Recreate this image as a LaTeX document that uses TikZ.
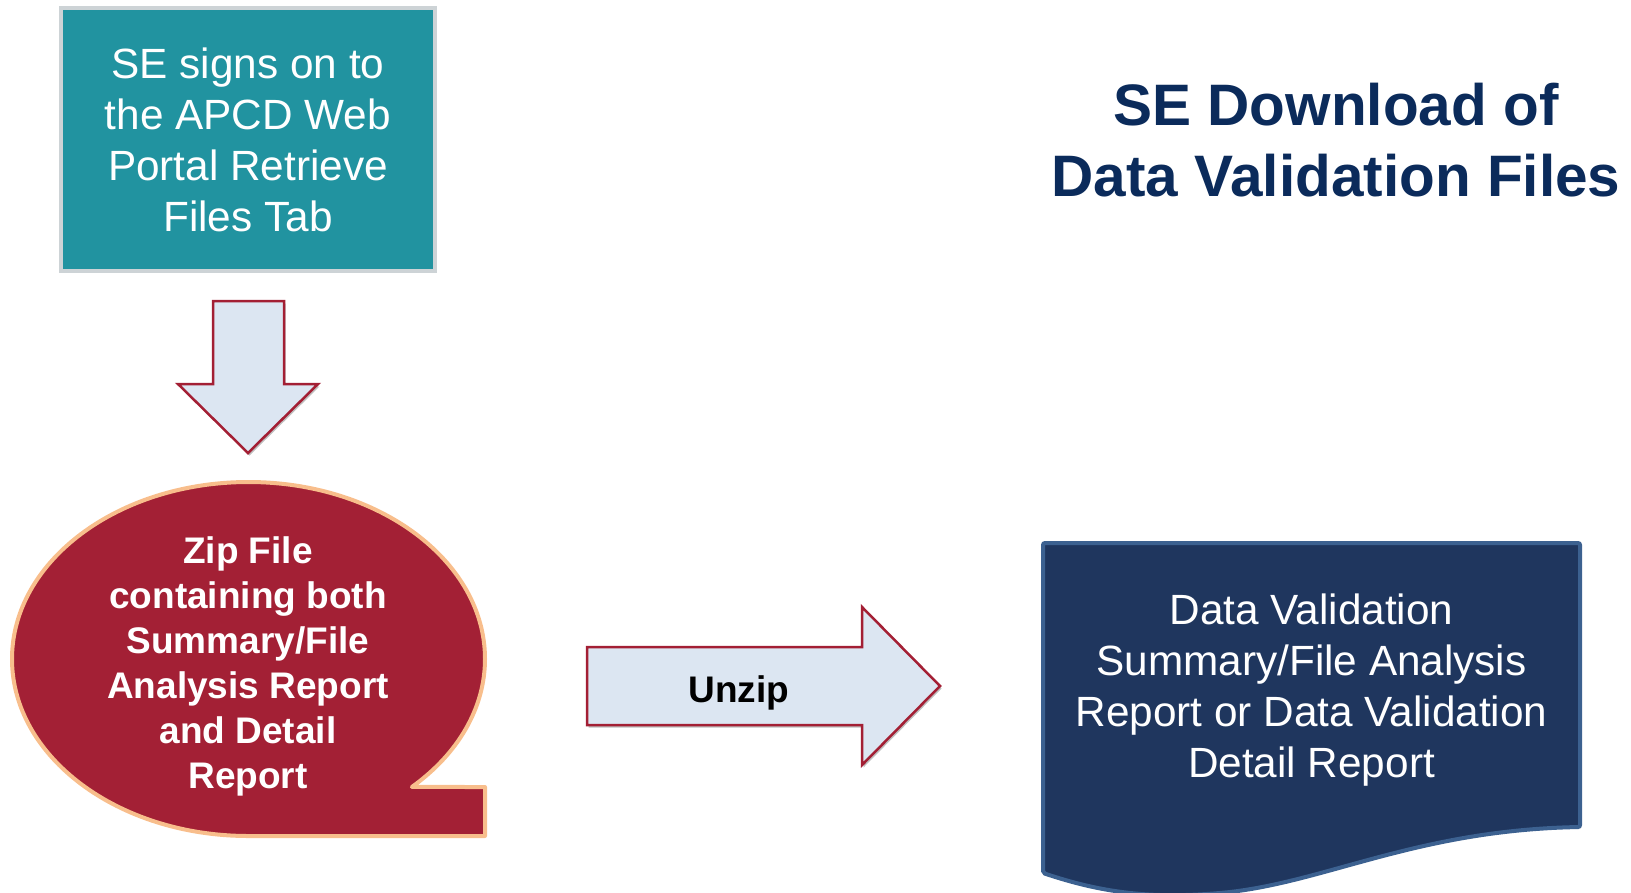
\documentclass[tikz,border=0pt]{standalone}
\usepackage{fontspec}
\setmainfont{Liberation Sans}
\usetikzlibrary{shadows}
\definecolor{tealfill}{HTML}{2193A0}
\definecolor{tealedge}{HTML}{CDD3D6}
\definecolor{arrowfill}{HTML}{DCE6F2}
\definecolor{arrowedge}{HTML}{A31F34}
\definecolor{bubblefill}{HTML}{A32035}
\definecolor{bubbleedge}{HTML}{F8BE8C}
\definecolor{navyfill}{HTML}{1F365E}
\definecolor{navyedge}{HTML}{3C6190}
\definecolor{titlecol}{HTML}{0B2B5B}
\tikzset{
  tealbox/.style={draw=tealedge, line width=4pt, fill=tealfill, text=white, align=center,
    inner sep=0pt, minimum width=374pt, minimum height=263pt,
    font=\fontsize{42.3}{51}\selectfont},
  blockarrow/.style={draw=arrowedge, line width=2.5pt, fill=arrowfill, line join=miter,
    drop shadow={shadow xshift=1.5pt, shadow yshift=-2.5pt, opacity=0.25, fill=black}},
  bubbleshape/.style={draw=bubbleedge, line width=4pt, fill=bubblefill, line join=round},
  docshape/.style={draw=navyedge, line width=4pt, fill=navyfill, rounded corners=2pt},
  whitetext/.style={text=white, align=center, inner sep=0pt},
}
\begin{document}
\begin{tikzpicture}[x=1pt, y=-1pt]
\useasboundingbox (0,0) rectangle (1631,892);

% top box
\node[tealbox] (se) at (248,139.5) {SE signs on to\\the APCD Web\\Portal Retrieve\\Files Tab};

% down arrow
\coordinate (dtip) at (248,453);
\draw[blockarrow] (213,301) -- (284,301) -- (284,384) -- (318,384) -- (dtip) -- (178,384) -- (213,384) -- cycle;

% speech bubble
\draw[bubbleshape] (248.5,836) arc[start angle=90, end angle=406.3, x radius=236.5, y radius=177]
  -- (485,787) -- (485,836) -- cycle;
\node[whitetext, font=\bfseries\fontsize{37}{45}\selectfont] (zip) at (248,666)
  {Zip File\\containing both\\Summary/File\\Analysis Report\\and Detail\\Report};

% unzip arrow
\coordinate (rtip) at (940,686);
\draw[blockarrow] (587,647) -- (862,647) -- (862,607) -- (rtip) -- (862,765) -- (862,725) -- (587,725) -- cycle;
\node[inner sep=0pt, font=\bfseries\fontsize{37}{44}\selectfont] (unzip) at (739,693) {Unzip};

% document shape
\draw[docshape] (1043,873) -- (1043,543) -- (1580,543) -- (1580,827)
  .. controls (1420,830) and (1330,880) .. (1230,892)
  .. controls (1150,900) and (1100,892) .. (1043,873) -- cycle;
\node[whitetext, font=\fontsize{42.3}{51}\selectfont] (dv) at (1311.5,690)
  {Data Validation\\Summary/File Analysis\\Report or Data Validation\\Detail Report};

% title
\node[text=titlecol, align=center, inner sep=0pt, font=\bfseries\fontsize{58.5}{71}\selectfont] (title) at (1336,140)
  {SE Download of\\Data Validation Files};
\end{tikzpicture}
\end{document}
